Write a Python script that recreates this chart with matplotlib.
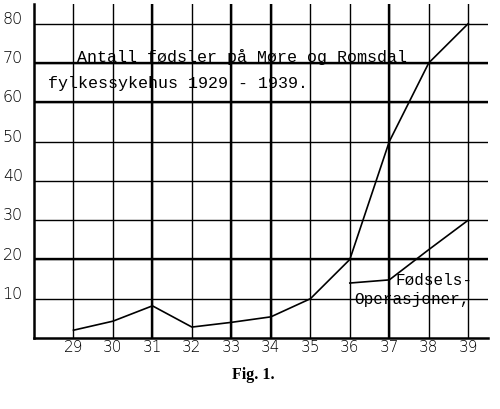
import matplotlib.pyplot as plt
import matplotlib.transforms as mtransforms

# %% data
years = [29, 30, 31, 32, 33, 34, 35, 36, 37, 38, 39]
births = [2, 4.3, 8.2, 2.8, 4, 5.4, 10, 20, 50, 70, 80]
op_years = [36, 37, 38, 39]
operations = [14, 14.8, 22.5, 30]
yticks = [10, 20, 30, 40, 50, 60, 70, 80]

# %% plot
fig = plt.figure(figsize=(5, 4.1), dpi=100)
ax = fig.add_axes([0.068, 0.173, 0.908, 0.815])
ax.set_xlim(28, 39.5)
ax.set_ylim(0, 85)

ax.set_xticks(years)
ax.set_xticklabels([str(y) for y in years], fontsize=11, family='DejaVu Sans',
                   fontweight='light')
ax.set_yticks(yticks)
ax.set_yticklabels([str(v) for v in yticks], fontsize=11.5, family='DejaVu Sans',
                   fontweight='light')
ax.tick_params(length=0, pad=1)
ax.tick_params(axis='y', pad=8)
# y labels sit a little above their grid lines
for lab in ax.get_yticklabels():
    lab.set_transform(lab.get_transform() +
                      mtransforms.ScaledTranslation(0, 5 / 72, fig.dpi_scale_trans))

ax.grid(True, color='black', linewidth=1.0)
# a few heavier lines, like the hand ruled original
for yv in [20, 60, 70]:
    ax.axhline(yv, color='black', linewidth=1.7)
for xv in [31, 33, 34, 37]:
    ax.axvline(xv, color='black', linewidth=1.7)

for side in ['top', 'right']:
    ax.spines[side].set_visible(False)
ax.spines['left'].set_linewidth(1.8)
ax.spines['bottom'].set_linewidth(1.8)

ax.plot(years, births, color='black', linewidth=1.2)
ax.plot(op_years, operations, color='black', linewidth=1.2)

mono = 'Liberation Mono'
ax.text(29.1, 70.5, 'Antall fødsler på Møre og Romsdal', family=mono, fontsize=12,
        va='baseline', ha='left')
ax.text(28.35, 65, 'fylkessykehus 1929 - 1939.', family=mono, fontsize=12,
        va='center', ha='left')
ax.text(37.15, 14.8, 'Fødsels-', family=mono, fontsize=11.5, va='center', ha='left')
ax.text(36.1, 10.0, 'Operasjoner,', family=mono, fontsize=11.5, va='center', ha='left')

fig.text(0.506, 0.085, 'Fig. 1.', family='Liberation Serif', fontsize=11.5,
         fontweight='bold', ha='center', va='center')

fig.savefig('out.png', dpi=100)
